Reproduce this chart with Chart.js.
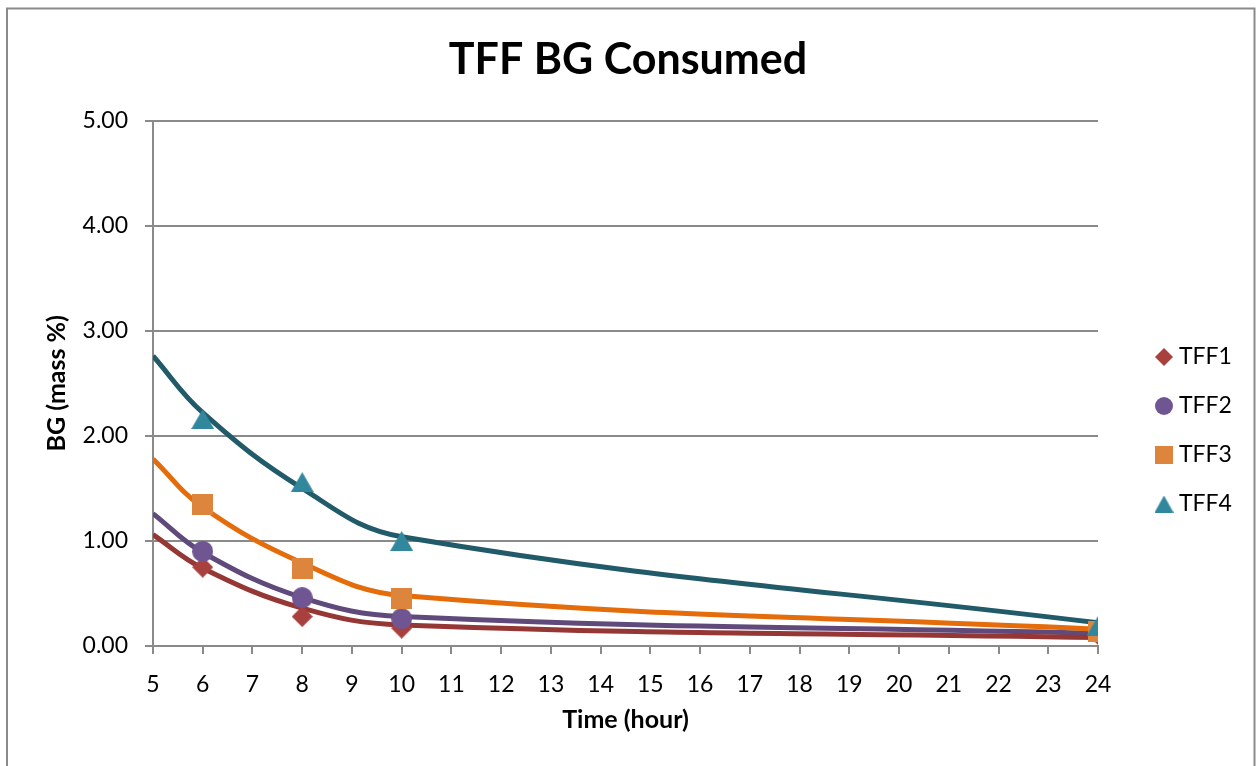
<!DOCTYPE html>
<html>
<head>
<meta charset="utf-8">
<title>TFF BG Consumed</title>
<script src="https://cdn.jsdelivr.net/npm/chart.js@4/dist/chart.umd.min.js"></script>
<style>
  html, body { margin: 0; padding: 0; background: #ffffff; overflow: hidden; }
  canvas { display: block; }
</style>
</head>
<body>
<canvas id="chart" width="1256" height="766"></canvas>
<script>
// Measured samples (markers)
const sampleHours = [6, 8, 10, 24];
const tff1 = [0.75, 0.28, 0.17, 0.11];
const tff2 = [0.90, 0.46, 0.26, 0.14];
const tff3 = [1.35, 0.74, 0.45, 0.14];
const tff4 = [2.16, 1.56, 1.00, 0.19];

// Smoothed fit curves
const curveHours = [5, 6, 8, 10, 24];
const fit1 = [1.06, 0.74, 0.36, 0.20, 0.08];
const fit2 = [1.26, 0.89, 0.46, 0.28, 0.12];
const fit3 = [1.78, 1.32, 0.79, 0.48, 0.16];
const fit4 = [2.76, 2.22, 1.50, 1.04, 0.22];

const seriesNames = ['TFF1', 'TFF2', 'TFF3', 'TFF4'];
const yTickValues = [0, 1, 2, 3, 4, 5];

const FONT = 'Lato';
const GRAY = '#8a8a8a';

const toPoints = (xs, ys) => xs.map((x, i) => ({ x: x, y: ys[i] }));

// Marker glyphs drawn onto small canvases so each shape is centred on its box
function makeMarker(shape, w, h, color) {
  const c = document.createElement('canvas');
  c.width = w;
  c.height = h;
  const g = c.getContext('2d');
  g.fillStyle = color;
  g.beginPath();
  if (shape === 'diamond') {
    g.moveTo(w / 2, 0); g.lineTo(w, h / 2); g.lineTo(w / 2, h); g.lineTo(0, h / 2);
  } else if (shape === 'circle') {
    g.arc(w / 2, h / 2, Math.min(w, h) / 2, 0, Math.PI * 2);
  } else if (shape === 'square') {
    g.rect(0, 0, w, h);
  } else if (shape === 'triangle') {
    g.moveTo(w / 2, 0); g.lineTo(w, h); g.lineTo(0, h);
  }
  g.closePath();
  g.fill();
  return c;
}

const markerSeries = [tff1, tff2, tff3, tff4];
const fitSeries = [fit1, fit2, fit3, fit4];
const markerColors = ['#a8413e', '#6f5692', '#de853d', '#31889c'];
const lineColors = ['#953735', '#5f4a7b', '#e46c0a', '#215a69'];
const markerShapes = ['diamond', 'circle', 'square', 'triangle'];
const markerSize = [[21, 21], [21, 21], [21, 21], [23, 20]];
const legendSize = [[18, 18], [18, 18], [18, 18], [19, 17]];
const markerOrder = [4, 3, 2, 1];
const lineOrder = [5, 8, 6, 7];

const chartMarkers = markerShapes.map((s, i) => makeMarker(s, markerSize[i][0], markerSize[i][1], markerColors[i]));
const legendMarkers = markerShapes.map((s, i) => makeMarker(s, legendSize[i][0], legendSize[i][1], markerColors[i]));

const datasets = [];
markerSeries.forEach((vals, i) => {
  datasets.push({
    label: seriesNames[i],
    data: toPoints(sampleHours, vals),
    showLine: false,
    pointStyle: chartMarkers[i],
    pointRadius: 10,
    pointBackgroundColor: markerColors[i],
    pointBorderColor: markerColors[i],
    pointBorderWidth: 0,
    backgroundColor: markerColors[i],
    borderColor: markerColors[i],
    order: markerOrder[i]
  });
});
fitSeries.forEach((vals, i) => {
  datasets.push({
    label: seriesNames[i] + ' fit',
    data: toPoints(curveHours, vals),
    showLine: true,
    pointRadius: 0,
    borderColor: lineColors[i],
    backgroundColor: lineColors[i],
    borderWidth: 5,
    tension: 0.4,
    fill: false,
    order: lineOrder[i]
  });
});

// Grey frame round the whole chart
const framePlugin = {
  id: 'frame',
  beforeDraw(chart) {
    const ctx = chart.ctx;
    ctx.save();
    ctx.strokeStyle = GRAY;
    ctx.lineWidth = 2;
    ctx.strokeRect(7, 8.5, 1247.5, 800);
    ctx.restore();
  }
};

// Fixed-width legend column, placed to the right of the plot
const LEGEND_WIDTH = 158;
const LEGEND_LEFT = 1134.5;
const LEGEND_TOP = 319.5;
const legendPlacement = {
  id: 'legendPlacement',
  beforeLayout(chart) {
    const lg = chart.legend;
    if (lg && !lg._fixedWidth) {
      const fit = lg.fit.bind(lg);
      lg.fit = function () { fit(); this.width = LEGEND_WIDTH; };
      lg._fixedWidth = true;
    }
  },
  afterLayout(chart) {
    const lg = chart.legend;
    if (lg) {
      lg.left = LEGEND_LEFT;
      lg.top = LEGEND_TOP;
    }
  }
};

new Chart(document.getElementById('chart'), {
  type: 'scatter',
  data: { datasets: datasets },
  plugins: [framePlugin, legendPlacement],
  options: {
    responsive: false,
    animation: false,
    events: [],
    devicePixelRatio: 1,
    layout: { padding: 0 },
    plugins: {
      tooltip: { enabled: false },
      title: {
        display: true,
        text: 'TFF BG Consumed',
        color: '#000000',
        font: { family: FONT, size: 43, weight: 'bold' },
        padding: { top: 34, bottom: 35 }
      },
      legend: {
        display: true,
        position: 'right',
        align: 'start',
        labels: {
          usePointStyle: true,
          boxWidth: 7,
          boxHeight: 7,
          padding: 26,
          color: '#000000',
          font: { family: FONT, size: 23 },
          filter: (item) => item.datasetIndex < seriesNames.length,
          sort: (a, b) => a.datasetIndex - b.datasetIndex,
          generateLabels(chart) {
            const items = Chart.defaults.plugins.legend.labels.generateLabels(chart);
            items.forEach((it) => {
              if (it.datasetIndex < legendMarkers.length) it.pointStyle = legendMarkers[it.datasetIndex];
            });
            return items;
          }
        }
      }
    },
    scales: {
      x: {
        type: 'linear',
        position: 'bottom',
        min: 5,
        max: 24,
        afterFit(scale) { scale.height = 120; },
        ticks: {
          stepSize: 1,
          color: '#000000',
          padding: 17,
          maxRotation: 0,
          autoSkip: false,
          font: { family: FONT, size: 23 }
        },
        grid: {
          drawOnChartArea: false,
          drawTicks: true,
          tickLength: 8,
          color: GRAY,
          lineWidth: 2
        },
        border: { display: true, color: GRAY, width: 2 },
        title: {
          display: true,
          text: 'Time (hour)',
          color: '#000000',
          font: { family: FONT, size: 25, weight: 'bold' },
          padding: { top: 0, bottom: 31 }
        }
      },
      y: {
        type: 'linear',
        position: 'left',
        min: 0,
        max: 5,
        afterFit(scale) { scale.width = 153; },
        afterBuildTicks(scale) { scale.ticks = yTickValues.map(v => ({ value: v })); },
        ticks: {
          color: '#000000',
          padding: 17,
          font: { family: FONT, size: 23 },
          callback: (v) => Number(v).toFixed(2)
        },
        grid: {
          drawTicks: true,
          tickLength: 8,
          color: GRAY,
          lineWidth: 2
        },
        border: { display: true, color: GRAY, width: 2 },
        title: {
          display: true,
          text: 'BG (mass %)',
          color: '#000000',
          font: { family: FONT, size: 25, weight: 'bold' },
          padding: { top: 42, bottom: 0 }
        }
      }
    }
  }
});
</script>
</body>
</html>
